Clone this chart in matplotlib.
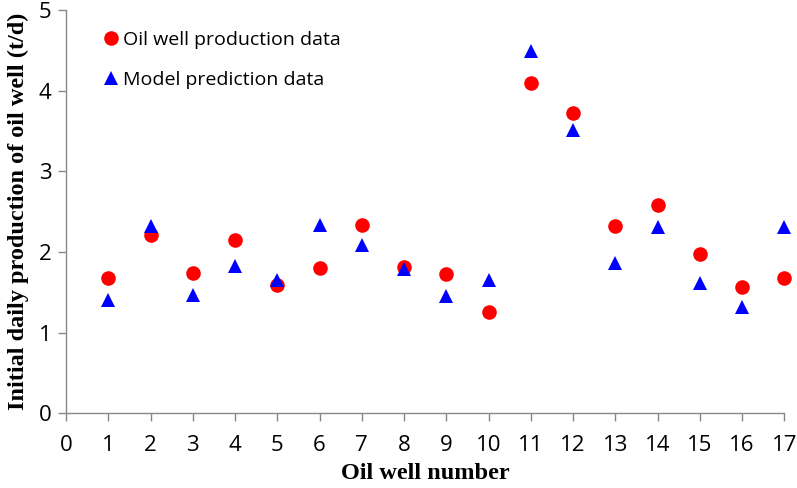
import numpy as np
import matplotlib.pyplot as plt

wells = np.arange(1, 18)
production = [1.68, 2.21, 1.74, 2.15, 1.59, 1.80, 2.33, 1.82, 1.73, 1.26,
              4.10, 3.73, 2.32, 2.59, 1.98, 1.57, 1.68]
prediction = [1.41, 2.32, 1.47, 1.83, 1.65, 2.34, 2.09, 1.79, 1.45, 1.65,
              4.49, 3.52, 1.87, 2.31, 1.62, 1.32, 2.31]

fig = plt.figure(figsize=(7.97, 4.88), dpi=100)
ax = fig.add_axes([0.083, 0.153, 0.901, 0.826])

ax.plot(wells, production, "o", color="#ff0000", markersize=10.5, markeredgewidth=0,
        label="Oil well production data", clip_on=False)
ax.plot(wells, prediction, "^", color="#0000ff", markersize=10.5, markeredgewidth=0,
        label="Model prediction data", clip_on=False)

ax.set_xlim(0, 17)
ax.set_ylim(0, 5)
ax.set_xticks(range(0, 18))
ax.set_yticks(range(0, 6))

for s in ["top", "right"]:
    ax.spines[s].set_visible(False)
for s in ["left", "bottom"]:
    ax.spines[s].set_color("#888888")
    ax.spines[s].set_linewidth(1)
ax.tick_params(color="#888888", length=5.5, width=1, labelsize=16, pad=5)
for lab in ax.get_xticklabels() + ax.get_yticklabels():
    lab.set_family("Open Sans")
ax.tick_params(axis="x", pad=10)

ax.set_xlabel("Oil well number", family="Liberation Serif", fontweight="bold",
              fontsize=17.5, labelpad=5)
ax.set_ylabel("Initial daily production of oil well (t/d)", family="Liberation Serif",
              fontweight="bold", fontsize=17.5, labelpad=7)

ax.legend(loc="upper left", bbox_to_anchor=(0.022, 0.993), frameon=False,
          prop={"family": "Open Sans", "size": 14}, handletextpad=0.0,
          labelspacing=1.15, handlelength=1.2)

fig.savefig("out.png", dpi=100)
